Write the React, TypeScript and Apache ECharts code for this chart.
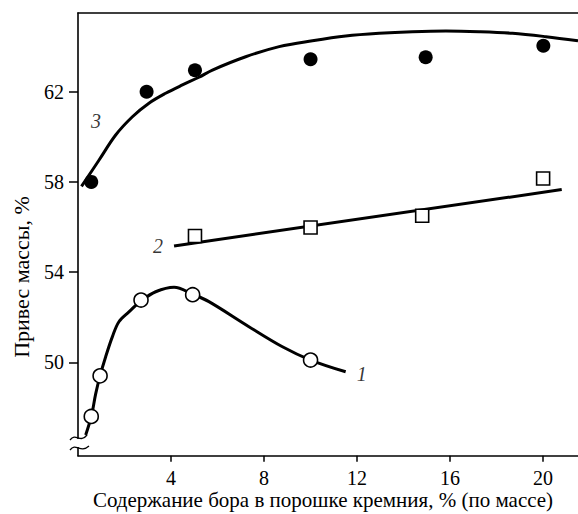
import React, { useEffect, useRef } from "react";
import * as echarts from "echarts";

// Axis ticks
const xTicks = [4, 8, 12, 16, 20];
const yTicks = [50, 54, 58, 62];
const X_MIN = 0;
const X_MAX = 21.5;
const Y_MIN = 45.86;
const Y_MAX = 65.49;

// Curve 1 (open circles)
const curve1 = [
  [0.33, 46.78], [0.57, 47.59], [0.76, 48.6], [0.95, 49.41], [1.19, 50.25],
  [1.48, 51.14], [1.76, 51.8], [2.19, 52.24], [2.71, 52.72], [3.34, 53.13],
  [4.13, 53.33], [4.93, 53.02], [5.63, 52.69], [7.35, 51.58], [8.79, 50.69],
  [10.0, 50.1], [11.51, 49.58],
];
const points1 = [[0.57, 47.6], [0.95, 49.4], [2.71, 52.76], [4.93, 53.0], [10.0, 50.1]];

// Curve 2 (open squares)
const line2 = [[4.13, 55.16], [20.8, 57.66]];
const points2 = [[5.03, 55.6], [10.0, 55.98], [14.8, 56.5], [20.0, 58.15]];

// Curve 3 (filled circles)
const curve3 = [
  [0.15, 57.8], [0.9, 58.96], [1.62, 60.08], [2.34, 60.89], [3.05, 61.49],
  [3.77, 61.93], [4.49, 62.3], [5.2, 62.64], [5.78, 62.96], [7.21, 63.55],
  [8.65, 64.0], [10.08, 64.26], [11.51, 64.47], [12.95, 64.59], [14.38, 64.66],
  [15.82, 64.69], [17.25, 64.66], [18.68, 64.59], [20.12, 64.44], [21.5, 64.26],
];
const points3 = [[0.57, 58.0], [2.95, 62.0], [5.03, 62.95], [10.0, 63.44], [14.95, 63.53], [20.01, 64.04]];

// Curve labels
const curveLabels = [[12.2, 49.5, "1"], [3.44, 55.15, "2"], [0.77, 60.7, "3"]];

const xTitle = "Содержание бора в порошке кремния, % (по массе)";
const yTitle = "Привес массы, %";

const FONT = "'Liberation Serif', 'Times New Roman', serif";

export default function App() {
  const ref = useRef<HTMLDivElement>(null);
  useEffect(() => {
    if (!ref.current) return;
    const chart = echarts.init(ref.current, null, { renderer: "svg" });
    const axisLine = { show: true, lineStyle: { color: "#000", width: 1.6 } };
    chart.setOption({
      animation: false,
      backgroundColor: "#fff",
      grid: { left: 78, top: 13, width: 500, height: 442.7, containLabel: false },
      xAxis: [
        {
          type: "value", min: X_MIN, max: X_MAX, position: "bottom",
          axisLine,
          axisTick: { show: true, length: 6, customValues: xTicks, lineStyle: { color: "#000", width: 1.5 } },
          axisLabel: { customValues: xTicks, color: "#000", fontFamily: FONT, fontSize: 20, margin: 12 },
          splitLine: { show: false },
        },
        {
          type: "value", min: X_MIN, max: X_MAX, position: "top",
          axisLine, axisTick: { show: false }, axisLabel: { show: false }, splitLine: { show: false },
        },
      ],
      yAxis: {
        type: "value", min: Y_MIN, max: Y_MAX,
        axisLine,
        axisTick: { show: true, length: 9, customValues: yTicks, lineStyle: { color: "#000", width: 1.5 } },
        axisLabel: { customValues: yTicks, color: "#000", fontFamily: FONT, fontSize: 20, margin: 14 },
        splitLine: { show: false },
      },
      series: [
        {
          type: "line", data: curve1, smooth: 0.35, showSymbol: false, symbol: "none",
          lineStyle: { color: "#000", width: 3 }, z: 2,
        },
        {
          type: "line", data: line2, showSymbol: false, symbol: "none",
          lineStyle: { color: "#000", width: 3 }, z: 2,
        },
        {
          type: "line", data: curve3, smooth: 0.35, showSymbol: false, symbol: "none",
          lineStyle: { color: "#000", width: 3 }, z: 2,
        },
        {
          type: "scatter", data: points1, symbol: "circle", symbolSize: 14,
          itemStyle: { color: "#fff", borderColor: "#000", borderWidth: 1.6, opacity: 1 }, z: 5,
        },
        {
          type: "scatter", data: points2, symbol: "rect", symbolSize: 13,
          itemStyle: { color: "#fff", borderColor: "#000", borderWidth: 1.6, opacity: 1 }, z: 5,
        },
        {
          type: "scatter", data: points3, symbol: "circle", symbolSize: 14,
          itemStyle: { color: "#000", opacity: 1 }, z: 5,
        },
        {
          type: "scatter", data: curveLabels, symbolSize: 0, z: 6,
          label: {
            show: true, position: "inside",
            formatter: (p: any) => p.value[2],
            color: "#000", fontFamily: FONT, fontStyle: "italic", fontSize: 20,
          },
        },
      ],
      graphic: [
        {
          type: "text", x: 21, y: 277, rotation: Math.PI / 2,
          style: { text: yTitle, fill: "#000", fontFamily: FONT, fontSize: 22, textAlign: "center", textVerticalAlign: "middle" },
        },
        {
          type: "text", x: 323, y: 500,
          style: { text: xTitle, fill: "#000", fontFamily: FONT, fontSize: 21, textAlign: "center", textVerticalAlign: "middle" },
        },
        { type: "rect", shape: { x: 75, y: 439, width: 7, height: 8 }, style: { fill: "#fff" }, z: 100 },
        {
          type: "bezierCurve", z: 101,
          shape: { x1: 70, y1: 440, cpx1: 76, cpy1: 432, cpx2: 80, cpy2: 444, x2: 87, y2: 435 },
          style: { stroke: "#000", lineWidth: 1.3, fill: "none" },
        },
        {
          type: "bezierCurve", z: 101,
          shape: { x1: 70, y1: 450, cpx1: 76, cpy1: 442, cpx2: 80, cpy2: 454, x2: 89, y2: 446 },
          style: { stroke: "#000", lineWidth: 1.3, fill: "none" },
        },
      ],
    });
    return () => chart.dispose();
  }, []);
  return <div ref={ref} style={{ position: "fixed", left: 0, top: 0, width: 578, height: 514 }} />;
}
